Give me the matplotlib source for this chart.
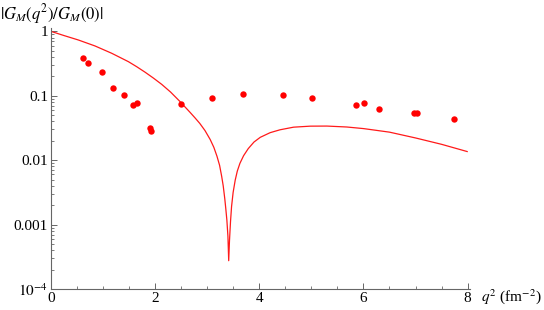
import matplotlib
matplotlib.use("Agg")
import matplotlib.pyplot as plt
from matplotlib.ticker import FixedLocator, LogLocator, MultipleLocator, NullFormatter

plt.rcParams['font.family'] = ['Liberation Serif', 'DejaVu Serif']
plt.rcParams['mathtext.fontset'] = 'stix'

# 理论曲线
curve_q2 = [0.0, 0.25, 0.53, 0.85, 1.17, 1.49, 1.65, 1.81, 1.97, 2.13, 2.30, 2.48, 2.67,
            2.77, 2.86, 2.96, 3.06, 3.13, 3.19, 3.24, 3.28, 3.31, 3.34, 3.36, 3.38, 3.40,
            3.415, 3.43, 3.45, 3.47, 3.50, 3.54, 3.58, 3.63, 3.70, 3.79, 3.90, 4.02, 4.21,
            4.40, 4.66, 4.98, 5.30, 5.68, 6.00, 6.50, 7.00, 7.50, 7.99]
curve_g = [1.0, 0.861, 0.733, 0.592, 0.456, 0.338, 0.282, 0.232, 0.188, 0.150, 0.114, 0.0813, 0.0556,
           0.0452, 0.0372, 0.0288, 0.0209, 0.0158, 0.0115, 0.00832, 0.00562, 0.00398, 0.00251, 0.00174, 0.00117, 0.000661,
           0.000275, 0.000562, 0.00112, 0.00191, 0.00316, 0.0049, 0.00676, 0.00891, 0.0117, 0.0151, 0.0191, 0.0226, 0.0267,
           0.0296, 0.0325, 0.0337, 0.0338, 0.0327, 0.0309, 0.0272, 0.0221, 0.0176, 0.0136]

# 实验数据点
data_q2 = [0.625, 0.716, 0.984, 1.19, 1.412, 1.585, 1.656, 1.911, 1.930, 2.494,
           3.089, 3.684, 4.451, 5.013, 5.858, 6.005, 6.299, 6.970, 7.028, 7.732]
data_g = [0.39, 0.323, 0.231, 0.132, 0.104, 0.072, 0.078, 0.032, 0.0288, 0.0755,
          0.0915, 0.108, 0.104, 0.0924, 0.0713, 0.0765, 0.0624, 0.0535, 0.0547, 0.0437]

y_ticks = [1e-4, 1e-3, 1e-2, 1e-1, 1]
y_tick_labels = [r'$10^{-4}$', '0.001', '0.01', '0.1', '1']
x_ticks = [0, 2, 4, 6, 8]

fig = plt.figure(figsize=(5.44, 3.10), dpi=100)
ax = fig.add_axes([0.0932, 0.0677, 0.7713, 0.8416])

ax.plot(curve_q2, curve_g, color='#ff1a1a', linewidth=0.9)
ax.plot(data_q2, data_g, 'o', color='#ff0000', markersize=4.6, markeredgewidth=0)

ax.set_yscale('log')
ax.set_xlim(0, 8.05)
ax.set_ylim(1e-4, 1.12)

ax.yaxis.set_major_locator(FixedLocator(y_ticks))
ax.set_yticklabels(y_tick_labels)
ax.yaxis.set_minor_locator(LogLocator(base=10, subs=range(2, 10)))
ax.yaxis.set_minor_formatter(NullFormatter())
ax.set_xticks(x_ticks)
ax.xaxis.set_minor_locator(MultipleLocator(0.5))

for side in ['top', 'right']:
    ax.spines[side].set_visible(False)
for side in ['left', 'bottom']:
    ax.spines[side].set_color('#666666')
    ax.spines[side].set_linewidth(0.8)

ax.tick_params(which='major', direction='in', length=4, width=0.7, color='#666666',
               labelsize=11, pad=2)
ax.tick_params(which='minor', direction='in', length=2, width=0.6, color='#666666')

fig.text(0.0, 0.995, r'$|G_M(q^2)/G_M(0)|$', ha='left', va='top', fontsize=12)
fig.text(0.885, 0.045, r'$q^2$ (fm$^{-2}$)', ha='left', va='center', fontsize=11)

fig.savefig('out.png', dpi=100)
